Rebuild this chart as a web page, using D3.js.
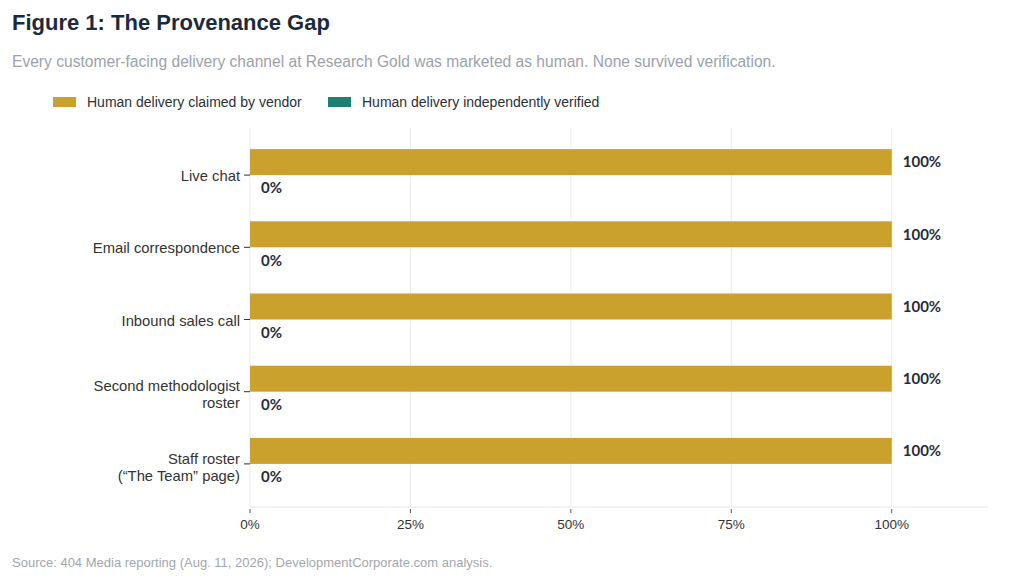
<!DOCTYPE html>
<html>
<head>
<meta charset="utf-8">
<script src="https://cdn.jsdelivr.net/npm/d3@7"></script>
<style>
  body { margin: 0; background: #fff; }
  svg { display: block; }
</style>
</head>
<body>
<svg id="chart" width="1024" height="587"></svg>
<script>
// channels, top to bottom
const channels = [
  "Live chat",
  "Email correspondence",
  "Inbound sales call",
  "Second methodologist roster",
  "Staff roster (“The Team” page)"
];
const channelLines = [
  ["Live chat"],
  ["Email correspondence"],
  ["Inbound sales call"],
  ["Second methodologist", "roster"],
  ["Staff roster", "(“The Team” page)"]
];
const claimed = [100, 100, 100, 100, 100];
const verified = [0, 0, 0, 0, 0];
const seriesNames = ["Human delivery claimed by vendor", "Human delivery independently verified"];
const xTicks = [0, 25, 50, 75, 100];

const gold = "#c9a12c";
const teal = "#1e8074";
const colors = [gold, teal];

const svg = d3.select("#chart");
const font = "'Liberation Sans', Arial, sans-serif";

svg.append("text")
  .attr("x", 12).attr("y", 30)
  .attr("font-family", font).attr("font-weight", "bold")
  .attr("font-size", 22).attr("fill", "#1c2b3c")
  .text("Figure 1: The Provenance Gap");

svg.append("text")
  .attr("x", 12).attr("y", 67)
  .attr("font-family", font).attr("font-size", 15.6)
  .attr("fill", "#9ca2a9")
  .text("Every customer-facing delivery channel at Research Gold was marketed as human. None survived verification.");

// legend
const legendX = [53, 328];
seriesNames.forEach((name, i) => {
  const g = svg.append("g").attr("transform", `translate(${legendX[i]},97)`);
  g.append("rect").attr("width", 23).attr("height", 10).attr("fill", colors[i]);
  g.append("text")
    .attr("x", 34).attr("y", 5).attr("dy", "0.35em")
    .attr("font-family", font).attr("font-size", 14)
    .attr("fill", "#2b2f36")
    .text(name);
});

const x = d3.scaleLinear().domain([0, 115]).range([250, 988]);
const y = d3.scaleBand().domain(channels).range([139, 500])
  .paddingInner(0.28).paddingOuter(0.14);
const sub = d3.scaleBand().domain(["claimed", "verified"]).range([0, y.bandwidth()]);

// gridlines
svg.append("g").selectAll("line")
  .data(xTicks).join("line")
  .attr("x1", d => x(d)).attr("x2", d => x(d))
  .attr("y1", 128).attr("y2", 507)
  .attr("stroke", "#ececec").attr("stroke-width", 1);

// x axis
const xAxis = svg.append("g").attr("transform", "translate(0,507)");
xAxis.append("line")
  .attr("x1", x(0)).attr("x2", x(115))
  .attr("stroke", "#e6e6e6");
xAxis.selectAll("line.tick")
  .data(xTicks).join("line").attr("class", "tick")
  .attr("x1", d => x(d)).attr("x2", d => x(d))
  .attr("y1", 2).attr("y2", 6)
  .attr("stroke", "#555");
xAxis.selectAll("text")
  .data(xTicks).join("text")
  .attr("x", d => x(d)).attr("y", 17).attr("dy", "0.35em")
  .attr("text-anchor", "middle")
  .attr("font-family", font).attr("font-size", 13.5)
  .attr("fill", "#333")
  .text(d => d + "%");

// y axis ticks + labels
const yAxis = svg.append("g");
channels.forEach((c, i) => {
  const cy = y(c) + y.bandwidth() / 2;
  yAxis.append("line")
    .attr("x1", 244).attr("x2", 250)
    .attr("y1", cy).attr("y2", cy)
    .attr("stroke", "#333");
  const lines = channelLines[i];
  const shift = lines.length > 1 ? 3 : 1;
  const t = yAxis.append("text")
    .attr("x", 240)
    .attr("text-anchor", "end")
    .attr("font-family", font).attr("font-size", 14.8)
    .attr("fill", "#333");
  lines.forEach((ln, j) => {
    t.append("tspan")
      .attr("x", 240)
      .attr("y", cy + shift + (j - (lines.length - 1) / 2) * 17)
      .attr("dy", "0.35em")
      .text(ln);
  });
});

// bars
const rows = channels.map((c, i) => ({ c, claimed: claimed[i], verified: verified[i] }));
const groups = svg.append("g").selectAll("g")
  .data(rows).join("g")
  .attr("transform", d => `translate(0,${y(d.c)})`);

["claimed", "verified"].forEach((key, k) => {
  groups.append("rect")
    .attr("x", x(0))
    .attr("y", sub(key))
    .attr("width", d => x(d[key]) - x(0))
    .attr("height", sub.bandwidth())
    .attr("fill", colors[k]);
  groups.append("text")
    .attr("x", d => x(d[key]) + 11)
    .attr("y", sub(key) + sub.bandwidth() / 2)
    .attr("dy", "0.35em")
    .attr("font-family", "Lato, 'Liberation Sans', sans-serif")
    .attr("font-weight", "bold").attr("font-size", 15)
    .attr("fill", "#1f2c3c")
    .text(d => d[key] + "%");
});

svg.append("text")
  .attr("x", 12).attr("y", 567)
  .attr("font-family", font).attr("font-size", 13)
  .attr("fill", "#a3a7ad")
  .text("Source: 404 Media reporting (Aug. 11, 2026); DevelopmentCorporate.com analysis.");
</script>
</body>
</html>
